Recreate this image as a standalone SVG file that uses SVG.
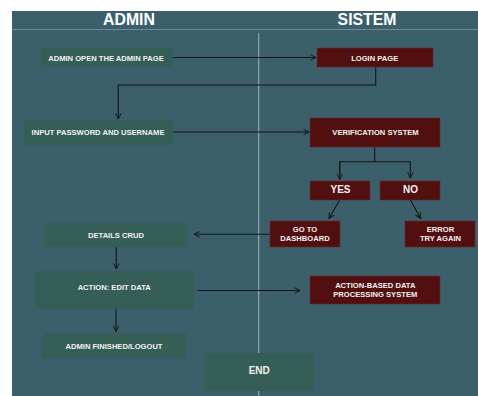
<svg xmlns="http://www.w3.org/2000/svg" width="478" height="396" viewBox="0 0 478 396">
<defs>
<marker id="ah" viewBox="0 0 10 10" refX="9" refY="5" markerWidth="7" markerHeight="7" markerUnits="userSpaceOnUse" orient="auto">
<path d="M1,1 L9,5 L1,9" fill="none" stroke="#151515" stroke-width="1.4"/>
</marker>
<style>
.g{fill:#355e57}
.r{fill:#520f10;stroke:#6a2a2c;stroke-width:0.6}
.t{font-family:"Liberation Sans",Arial,sans-serif;font-weight:bold;font-size:7.6px;fill:#f2f2f2;text-anchor:middle;dominant-baseline:central}
.big{font-size:10px}
.h{font-family:"Liberation Sans",Arial,sans-serif;font-weight:bold;font-size:15.8px;fill:#ffffff;text-anchor:middle}
.c{fill:none;stroke:#151515;stroke-width:1.1}
</style>
</defs>
<rect width="478" height="396" fill="#ffffff"/>
<rect x="12" y="11" width="466" height="385" fill="#3b5f6b"/>
<line x1="12" y1="29.5" x2="478" y2="29.5" stroke="#6f8b94" stroke-width="1.2"/>
<line x1="258.7" y1="33" x2="258.7" y2="396" stroke="#8fa6ad" stroke-width="1.2"/>
<text class="h" x="129" y="24.5">ADMIN</text>
<text class="h" x="367" y="24.5">SISTEM</text>

<g id="connectors">
<path class="c" d="M173,57.5 H316" marker-end="url(#ah)"/>
<path class="c" d="M375.7,67 V85 H118.3 V119" marker-end="url(#ah)"/>
<path class="c" d="M173,132 H309" marker-end="url(#ah)"/>
<path class="c" d="M374.7,147 V161.7"/>
<path class="c" d="M339.7,176 V161.7 H410.3 V178" marker-end="url(#ah)"/>
<path class="c" d="M339.7,161.7 V179.5" marker-end="url(#ah)"/>
<path class="c" d="M339.7,200 L329,218.5" marker-end="url(#ah)"/>
<path class="c" d="M410.3,200 L420.7,218.5" marker-end="url(#ah)"/>
<path class="c" d="M270,234.3 H194" marker-end="url(#ah)"/>
<path class="c" d="M116.3,247 V269" marker-end="url(#ah)"/>
<path class="c" d="M197.3,290.5 H300" marker-end="url(#ah)"/>
<path class="c" d="M116,309 V331.5" marker-end="url(#ah)"/>
</g>

<g id="admin-open"><rect class="g" x="41" y="48" width="132" height="19"/><text class="t" x="106" y="58">ADMIN OPEN THE ADMIN PAGE</text></g>
<g id="login-page"><rect class="r" x="317" y="48" width="116" height="19"/><text class="t" x="374.7" y="58">LOGIN PAGE</text></g>
<g id="input-password"><rect class="g" x="24" y="120" width="149" height="25"/><text class="t" x="98" y="132.5">INPUT PASSWORD AND USERNAME</text></g>
<g id="verification"><rect class="r" x="310" y="118" width="130" height="29"/><text class="t" x="375.5" y="132.3">VERIFICATION SYSTEM</text></g>
<g id="yes"><rect class="r" x="310" y="181" width="60" height="19"/><text class="t big" x="340.5" y="189.5">YES</text></g>
<g id="no"><rect class="r" x="380" y="181" width="60" height="19"/><text class="t big" x="410.5" y="189.5">NO</text></g>
<g id="dashboard"><rect class="r" x="270" y="221" width="70" height="26"/><text class="t" x="305" y="229.7">GO TO</text><text class="t" x="305" y="238.7">DASHBOARD</text></g>
<g id="error"><rect class="r" x="405" y="221" width="70" height="26"/><text class="t" x="440.5" y="229.7">ERROR</text><text class="t" x="440.5" y="238.7">TRY AGAIN</text></g>
<g id="details-crud"><rect class="g" x="44" y="223" width="144" height="24"/><text class="t" x="116" y="235.5">DETAILS CRUD</text></g>
<g id="edit-data"><rect class="g" x="35" y="271" width="159" height="38"/><text class="t" x="114.2" y="287.3">ACTION: EDIT DATA</text></g>
<g id="processing"><rect class="r" x="310" y="276" width="130" height="28"/><text class="t" x="375.3" y="285.7">ACTION-BASED DATA</text><text class="t" x="375.3" y="294.7">PROCESSING SYSTEM</text></g>
<g id="finished"><rect class="g" x="42" y="333" width="144" height="25"/><text class="t" x="114" y="346.5">ADMIN FINISHED/LOGOUT</text></g>
<g id="end"><rect class="g" x="204" y="353" width="110" height="38"/><text class="t big" x="259.2" y="370.7">END</text></g>
</svg>
